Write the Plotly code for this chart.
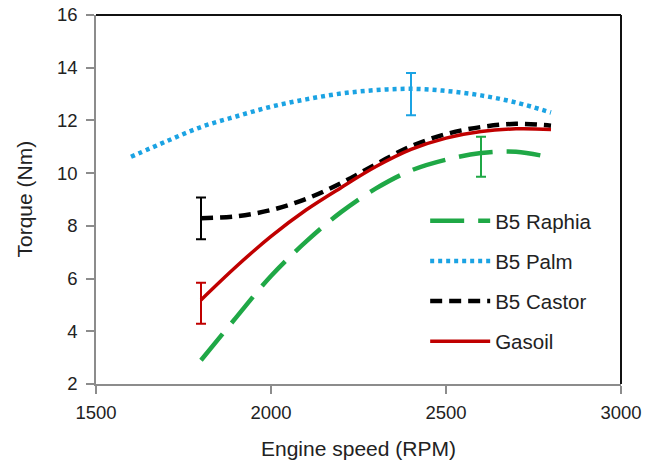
import plotly.graph_objects as go

rpm = [1800, 1900, 2000, 2100, 2200, 2300, 2400, 2500, 2600, 2700, 2800]
rpm_palm = [1600, 1700, 1800, 1900, 2000, 2100, 2200, 2300, 2400, 2500, 2600, 2700, 2800]

raphia = [2.9, 4.52, 6.1, 7.4, 8.52, 9.42, 10.1, 10.51, 10.76, 10.81, 10.59]
palm = [10.62, 11.2, 11.75, 12.15, 12.52, 12.8, 13.02, 13.15, 13.2, 13.12, 12.95, 12.68, 12.3]
castor = [8.29, 8.36, 8.6, 9.02, 9.62, 10.34, 11.02, 11.48, 11.75, 11.87, 11.8]
gasoil = [5.19, 6.45, 7.6, 8.6, 9.45, 10.25, 10.9, 11.33, 11.58, 11.68, 11.66]

# error bars: x, centre, plus, minus
err_names = ["B5 Raphia", "B5 Palm", "B5 Castor", "Gasoil"]
err_x = [2600, 2400, 1800, 1800]
err_y = [10.76, 13.2, 8.29, 5.19]
err_plus = [0.62, 0.6, 0.79, 0.65]
err_minus = [0.9, 1.0, 0.8, 0.9]

colors = {"B5 Raphia": "#1fa846", "B5 Palm": "#1ba3e3", "B5 Castor": "#000000", "Gasoil": "#c00000"}
dashes = {"B5 Raphia": "34px,14px", "B5 Palm": "4px,4px", "B5 Castor": "12px,7px", "Gasoil": "solid"}
widths = {"B5 Raphia": 4.5, "B5 Palm": 4.5, "B5 Castor": 4.5, "Gasoil": 3.5}

series = [("B5 Raphia", rpm, raphia), ("B5 Palm", rpm_palm, palm),
          ("B5 Castor", rpm, castor), ("Gasoil", rpm, gasoil)]

fig = go.Figure()
for name, xs, ys in series:
    fig.add_trace(go.Scatter(x=xs, y=ys, name=name, mode="lines", legendgroup=name,
                             line=dict(color=colors[name], width=widths[name], dash=dashes[name],
                                       shape="spline", smoothing=1.0)))
for name, ex, ey, ep, em in zip(err_names, err_x, err_y, err_plus, err_minus):
    fig.add_trace(go.Scatter(x=[ex], y=[ey], mode="markers", showlegend=False,
                             marker=dict(size=1, opacity=0),
                             error_y=dict(type="data", symmetric=False, array=[ep], arrayminus=[em],
                                          color=colors[name], thickness=2, width=5)))

font = "Liberation Sans, Arial, sans-serif"
fig.update_layout(
    width=652, height=462,
    margin=dict(l=96, r=31, t=15, b=78, autoexpand=False),
    paper_bgcolor="white", plot_bgcolor="white",
    font=dict(family=font, color="#222", size=19),
    showlegend=True,
    legend=dict(x=0.627, y=0.496, xanchor="left", yanchor="top", bgcolor="rgba(0,0,0,0)",
                font=dict(size=20.5, color="#222"), itemwidth=60, tracegroupgap=10.5),
    xaxis=dict(range=[1500, 3000], tickvals=[1500, 2000, 2500, 3000], showgrid=False, zeroline=False,
               showline=True, linecolor="#8c8c8c", linewidth=1.5, ticks="outside", ticklen=8,
               tickcolor="#8c8c8c", tickwidth=1.5, tickfont=dict(size=18.5), ticklabelstandoff=3,
               ticklabeloverflow="allow", automargin=False),
    yaxis=dict(range=[2, 16], tickvals=[2, 4, 6, 8, 10, 12, 14, 16], showgrid=False, zeroline=False,
               showline=True, linecolor="#8c8c8c", linewidth=1.5, ticks="outside", ticklen=8,
               tickcolor="#8c8c8c", tickwidth=1.5, tickfont=dict(size=18.5), ticklabelstandoff=5,
               ticklabeloverflow="allow", automargin=False),
    shapes=[
        dict(type="line", xref="paper", yref="paper", x0=0, x1=1, y0=1, y1=1, layer="above",
             line=dict(color="#111", width=2)),
        dict(type="line", xref="paper", yref="paper", x0=1, x1=1, y0=0, y1=1, layer="above",
             line=dict(color="#111", width=2)),
    ],
    annotations=[
        dict(text="Engine speed (RPM)", xref="paper", yref="paper", x=0.5, y=0, yshift=-64,
             showarrow=False, font=dict(size=21), xanchor="center", yanchor="middle"),
        dict(text="Torque (Nm)", xref="paper", yref="paper", x=0, y=0.5, xshift=-72,
             showarrow=False, font=dict(size=21), textangle=-90, xanchor="center", yanchor="middle"),
    ],
)
# remove the browser's default 8px body margin so the figure fills the window exactly
fig.write_html("out.html", config={"displayModeBar": False},
               post_script="document.body.style.margin='0px';")
